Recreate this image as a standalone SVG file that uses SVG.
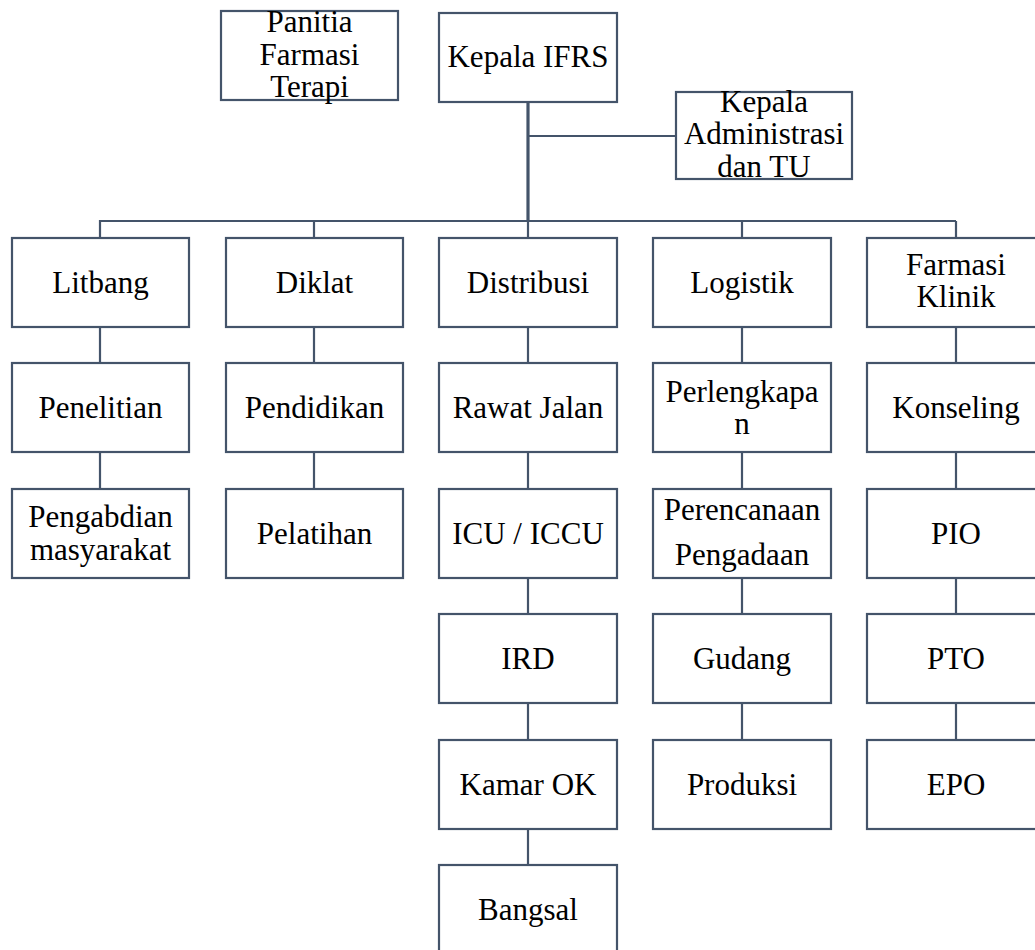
<svg xmlns="http://www.w3.org/2000/svg" width="1035" height="950" viewBox="0 0 1035 950">
<style>
.box{fill:#ffffff;stroke:#44546A;stroke-width:2.2}
.ln{fill:none;stroke:#44546A;stroke-width:2.2}
.trunk{fill:none;stroke:#44546A;stroke-width:3.2}
text{font-size:31px;fill:#000;text-anchor:middle}
</style>
<rect width="1035" height="950" fill="#ffffff"/>
<g id="connectors">
<path class="trunk" d="M528 102 V221"/>
<path class="ln" d="M528 136 H676"/>
<path class="ln" d="M100 221 H956 M100 220 V238 M314 221 V238 M528 221 V238 M742 221 V238 M956 221 V238"/>
<path class="ln" d="M100 327 V363 M100 452 V489"/>
<path class="ln" d="M314 327 V363 M314 452 V489"/>
<path class="ln" d="M528 327 V363 M528 452 V489 M528 578 V614 M528 703 V740 M528 829 V865"/>
<path class="ln" d="M742 327 V363 M742 452 V489 M742 578 V614 M742 703 V740"/>
<path class="ln" d="M956 327 V363 M956 452 V489 M956 578 V614 M956 703 V740"/>
</g>
<g font-family="'Liberation Serif', 'Times New Roman', 'DejaVu Serif', serif">
<g id="panitia"><rect class="box" x="221" y="11" width="177" height="89"/><text x="309.5" y="32">Panitia</text><text x="309.5" y="64.5">Farmasi</text><text x="309.5" y="97">Terapi</text></g>
<g id="kepala-ifrs"><rect class="box" x="439" y="13" width="178" height="89"/><text x="528" y="67">Kepala IFRS</text></g>
<g id="kepala-admin"><rect class="box" x="676" y="92" width="176" height="87"/><text x="764" y="111.5">Kepala</text><text x="764" y="144">Administrasi</text><text x="764" y="176.5">dan TU</text></g>

<g id="litbang"><rect class="box" x="12" y="238" width="177" height="89"/><text x="100.5" y="293">Litbang</text></g>
<g id="penelitian"><rect class="box" x="12" y="363" width="177" height="89"/><text x="100.5" y="418">Penelitian</text></g>
<g id="pengabdian"><rect class="box" x="12" y="489" width="177" height="89"/><text x="100.5" y="527">Pengabdian</text><text x="100.5" y="559.5">masyarakat</text></g>

<g id="diklat"><rect class="box" x="226" y="238" width="177" height="89"/><text x="314.5" y="293">Diklat</text></g>
<g id="pendidikan"><rect class="box" x="226" y="363" width="177" height="89"/><text x="314.5" y="418">Pendidikan</text></g>
<g id="pelatihan"><rect class="box" x="226" y="489" width="177" height="89"/><text x="314.5" y="544">Pelatihan</text></g>

<g id="distribusi"><rect class="box" x="439" y="238" width="178" height="89"/><text x="528" y="293">Distribusi</text></g>
<g id="rawat-jalan"><rect class="box" x="439" y="363" width="178" height="89"/><text x="528" y="418">Rawat Jalan</text></g>
<g id="icu"><rect class="box" x="439" y="489" width="178" height="89"/><text x="528" y="544">ICU / ICCU</text></g>
<g id="ird"><rect class="box" x="439" y="614" width="178" height="89"/><text x="528" y="669">IRD</text></g>
<g id="kamar-ok"><rect class="box" x="439" y="740" width="178" height="89"/><text x="528" y="795">Kamar OK</text></g>
<g id="bangsal"><rect class="box" x="439" y="865" width="178" height="89"/><text x="528" y="920">Bangsal</text></g>

<g id="logistik"><rect class="box" x="653" y="238" width="178" height="89"/><text x="742" y="293">Logistik</text></g>
<g id="perlengkapan"><rect class="box" x="653" y="363" width="178" height="89"/><text x="742" y="402">Perlengkapa</text><text x="742" y="433.5">n</text></g>
<g id="perencanaan"><rect class="box" x="653" y="489" width="178" height="89"/><text x="742" y="520">Perencanaan</text><text x="742" y="565">Pengadaan</text></g>
<g id="gudang"><rect class="box" x="653" y="614" width="178" height="89"/><text x="742" y="669">Gudang</text></g>
<g id="produksi"><rect class="box" x="653" y="740" width="178" height="89"/><text x="742" y="795">Produksi</text></g>

<g id="farmasi-klinik"><rect class="box" x="867" y="238" width="178" height="89"/><text x="956" y="275">Farmasi</text><text x="956" y="307">Klinik</text></g>
<g id="konseling"><rect class="box" x="867" y="363" width="178" height="89"/><text x="956" y="418">Konseling</text></g>
<g id="pio"><rect class="box" x="867" y="489" width="178" height="89"/><text x="956" y="544">PIO</text></g>
<g id="pto"><rect class="box" x="867" y="614" width="178" height="89"/><text x="956" y="669">PTO</text></g>
<g id="epo"><rect class="box" x="867" y="740" width="178" height="89"/><text x="956" y="795">EPO</text></g>
</g>
</svg>
